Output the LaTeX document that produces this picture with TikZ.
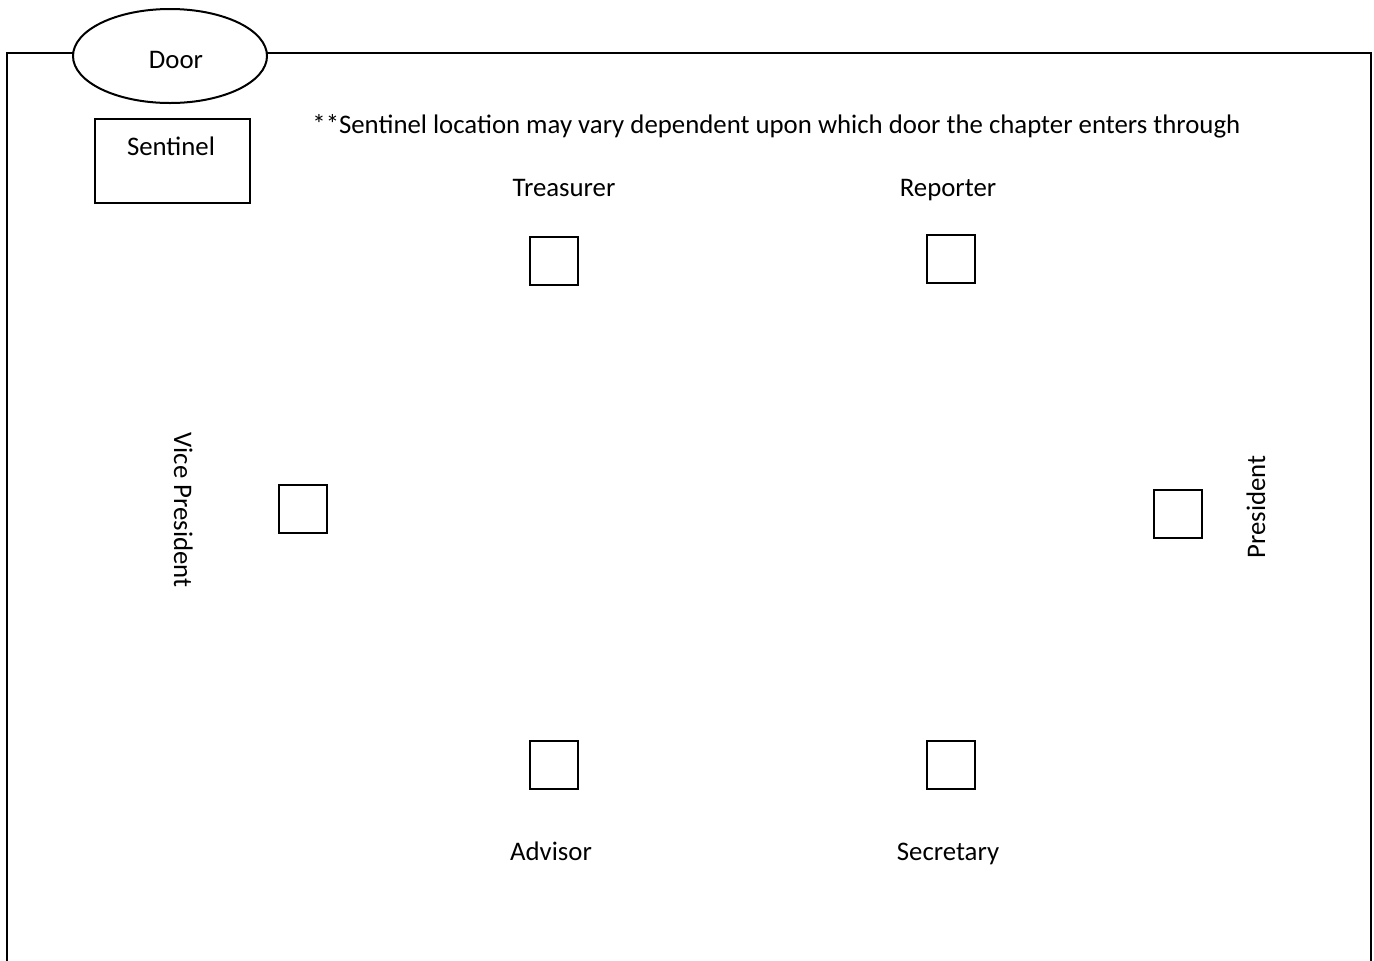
\documentclass[tikz,border=0pt]{standalone}
\usepackage{fontspec}
\setmainfont{Carlito}
\usetikzlibrary{positioning,shapes.geometric}
\tikzset{%
	seat/.style     = {draw, rectangle, line width=1pt, minimum size=24pt, inner sep=0pt}, % Chair
	door/.style     = {draw, ellipse, fill=white, line width=1pt, minimum width=97pt, minimum height=47pt}, % Door
	post/.style     = {draw, rectangle, line width=1pt, minimum width=77.5pt, minimum height=42pt}, % Sentinel
	officer/.style  = {inner sep=0pt, text height=0.8em, text depth=0em}, % Label
}
\begin{document}
\begin{tikzpicture}[x=0.5pt, y=-0.5pt, font=\fontsize{13.4}{16}\selectfont]
	\useasboundingbox (0,0) rectangle (1374,960);
	% walls
	\coordinate (bl) at (7,975);
	\coordinate (tl) at (7,53);
	\coordinate (tr) at (1371,53);
	\coordinate (br) at (1371,975);
	\draw[line width=1pt] (bl) -- (tl) -- (tr) -- (br);
	\node[door] (door) at (170,56) {};
	\node[officer] at (176,60) {Door};
	\node[post] (sentinel) at (172.5,161) {};
	\node[officer] at (171,147) {Sentinel};
	\node[officer, anchor=west] (note) at (312,125) {**Sentinel location may vary dependent upon which door the chapter enters through};
	
	\node[seat] (treasurer) at (554,261) {};
	\node[officer] at (564,188) {Treasurer};
	\node[seat] (reporter) at (951,259) {};
	\node[officer] at (948,188) {Reporter};
	\node[seat] (vp) at (303,509) {};
	\node[officer, rotate=-90] at (182,510) {Vice President};
	\node[seat] (president) at (1178,514) {};
	\node[officer, rotate=90] at (1257,507) {President};
	\node[seat] (advisor) at (554,765) {};
	\node[officer] at (551,852) {Advisor};
	\node[seat] (secretary) at (951,765) {};
	\node[officer] at (948,852) {Secretary};
\end{tikzpicture}
\end{document}
